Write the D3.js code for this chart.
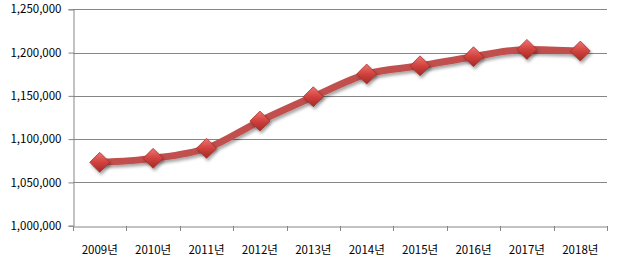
<!DOCTYPE html>
<html>
<head>
<meta charset="utf-8">
<script src="https://cdn.jsdelivr.net/npm/d3@7"></script>
<style>
  body { margin: 0; background: #fff; }
  svg text { font-family: "Noto Sans CJK KR", "DejaVu Sans", sans-serif; font-size: 11.5px; fill: #000; }
</style>
</head>
<body>
<svg id="chart" width="618" height="262"></svg>
<script>
var years = ['2009년', '2010년', '2011년', '2012년', '2013년', '2014년', '2015년', '2016년', '2017년', '2018년'];
var values = [1073200, 1077800, 1089400, 1120900, 1149000, 1175200, 1184700, 1195200, 1203700, 1201700];
var yTicks = [1000000, 1050000, 1100000, 1150000, 1200000, 1250000];

var svg = d3.select('#chart');
var plotLeft = 73, plotRight = 607, plotTop = 9.3, plotBottom = 225.7;

var x = d3.scaleBand().domain(years).range([plotLeft, plotRight]);
var y = d3.scaleLinear().domain([1000000, 1250000]).range([plotBottom, plotTop]);

var defs = svg.append('defs');
var shadow = defs.append('filter').attr('id', 'shadow')
    .attr('x', '-50%').attr('y', '-50%').attr('width', '200%').attr('height', '200%');
shadow.append('feDropShadow')
    .attr('dx', 1.5).attr('dy', 2.5).attr('stdDeviation', 1.5)
    .attr('flood-color', '#000').attr('flood-opacity', 0.35);

var grad = defs.append('linearGradient').attr('id', 'mk')
    .attr('x1', 0).attr('y1', 0).attr('x2', 0).attr('y2', 1);
grad.append('stop').attr('offset', '0%').attr('stop-color', '#ee7571');
grad.append('stop').attr('offset', '50%').attr('stop-color', '#d2413d');
grad.append('stop').attr('offset', '100%').attr('stop-color', '#a12a27');

// gridlines
svg.append('g')
    .selectAll('line')
    .data(yTicks.slice(1))
    .join('line')
    .attr('x1', plotLeft).attr('x2', plotRight)
    .attr('y1', function(d) { return Math.round(y(d)) + 0.5; })
    .attr('y2', function(d) { return Math.round(y(d)) + 0.5; })
    .attr('stroke', '#868686');

// y axis
var yAxis = svg.append('g')
    .attr('transform', 'translate(' + (plotLeft + 0.5) + ',0)')
    .call(d3.axisLeft(y).tickValues(yTicks).tickSize(5).tickPadding(7).tickFormat(d3.format(',')));
yAxis.selectAll('path, line').attr('stroke', '#868686');
yAxis.selectAll('text').attr('font-size', null).attr('font-family', null);

// x axis
var xAxis = svg.append('g')
    .attr('transform', 'translate(0,' + (Math.round(plotBottom) + 0.5) + ')')
    .call(d3.axisBottom(x).tickSize(0).tickPadding(19));
xAxis.select('.domain').attr('stroke', '#868686');
xAxis.selectAll('text').attr('font-size', null).attr('font-family', null);
xAxis.selectAll('.tick line').remove();
svg.append('g')
    .selectAll('line')
    .data(years.concat(['end']))
    .join('line')
    .attr('x1', function(d, i) { return Math.round(plotLeft + i * x.step()) + 0.5; })
    .attr('x2', function(d, i) { return Math.round(plotLeft + i * x.step()) + 0.5; })
    .attr('y1', Math.round(plotBottom)).attr('y2', Math.round(plotBottom) + 5)
    .attr('stroke', '#868686');

var cx = function(d, i) { return x(years[i]) + x.bandwidth() / 2; };

// line
var line = d3.line()
    .x(function(d, i) { return cx(d, i); })
    .y(function(d) { return y(d); })
    .curve(d3.curveMonotoneX);

svg.append('path')
    .datum(values)
    .attr('d', line)
    .attr('fill', 'none')
    .attr('stroke', '#c0504d')
    .attr('stroke-width', 7)
    .attr('stroke-linejoin', 'round')
    .attr('filter', 'url(#shadow)');

// markers
var r = 10;
svg.append('g')
    .selectAll('path')
    .data(values)
    .join('path')
    .attr('d', function(d, i) {
        var px = cx(d, i), py = y(d);
        return 'M' + px + ',' + (py - r) + 'L' + (px + r) + ',' + py + 'L' + px + ',' + (py + r) + 'L' + (px - r) + ',' + py + 'Z';
    })
    .attr('fill', 'url(#mk)')
    .attr('stroke', '#9b2b28')
    .attr('stroke-width', 0.7)
    .attr('filter', 'url(#shadow)');
</script>
</body>
</html>
